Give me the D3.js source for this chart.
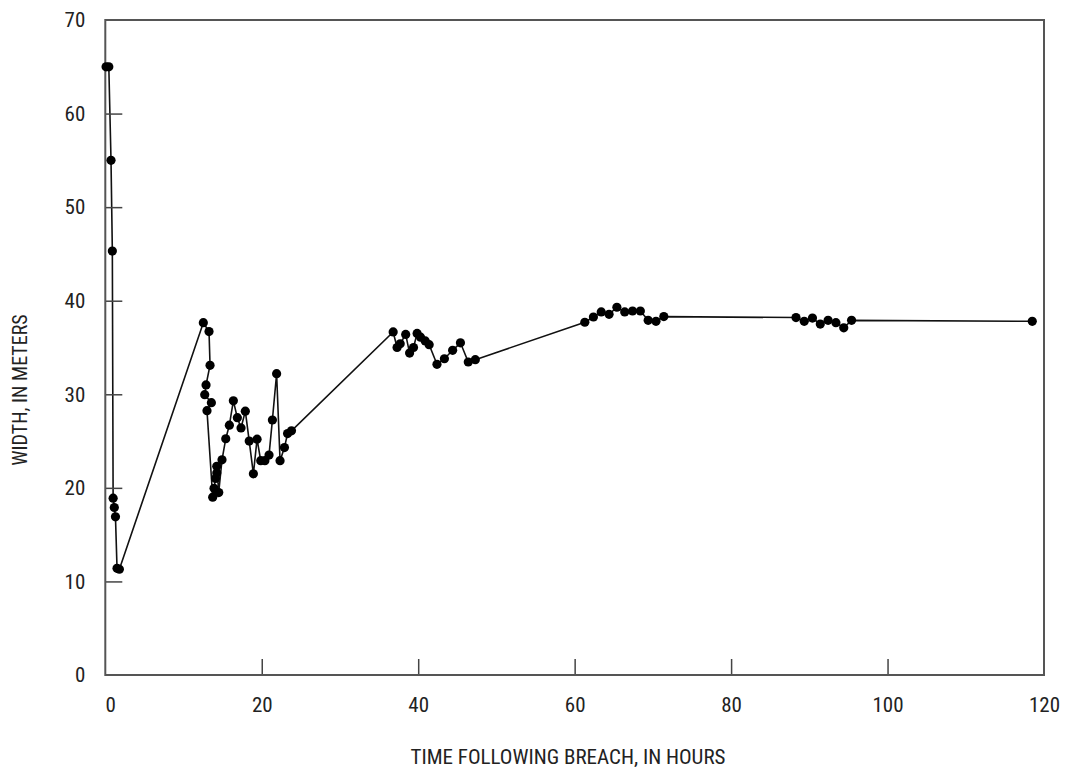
<!DOCTYPE html>
<html>
<head>
<meta charset="utf-8">
<script src="https://cdn.jsdelivr.net/npm/d3@7"></script>
<style>
  html, body { margin: 0; padding: 0; background: #fff; }
  svg { display: block; }
  text { font-family: "Liberation Sans Narrow", "Arial Narrow", "Roboto Condensed", sans-serif; fill: #222; }
</style>
</head>
<body>
<svg id="chart" width="1067" height="771"></svg>
<script>
// Time following breach (hours)
const hours = [
  0.1, 0.45, 0.73, 0.9, 1.0, 1.15, 1.3, 1.5, 1.8,
  12.53, 13.26, 13.39, 12.88, 12.71, 13.56, 13.0,
  13.73, 13.9, 14.1, 14.25, 14.25, 14.5,
  14.92, 15.4, 15.86, 16.37, 16.88, 17.35, 17.9, 18.4, 18.93, 19.4, 19.87, 20.4, 20.93, 21.36, 21.9, 22.34, 22.9, 23.3, 23.8,
  36.8, 37.3, 37.7, 38.4, 38.9, 39.4, 39.86, 40.3, 40.9, 41.4, 42.4, 43.35, 44.4, 45.4, 46.4, 47.3,
  61.3, 62.4, 63.4, 64.4, 65.4, 66.4, 67.4, 68.4, 69.4, 70.4, 71.4,
  88.3, 89.35, 90.4, 91.4, 92.4, 93.4, 94.4, 95.4,
  118.5
];
// Width (meters)
const widths = [
  65.0, 65.0, 55.0, 45.3, 18.9, 17.9, 16.9, 11.4, 11.3,
  37.65, 36.7, 33.1, 31.0, 29.96, 29.1, 28.25,
  19.0, 19.95, 21.0, 21.6, 22.3, 19.5,
  23.0, 25.25, 26.7, 29.3, 27.5, 26.4, 28.2, 25.0, 21.5, 25.2, 22.9, 22.9, 23.5, 27.25, 32.2, 22.9, 24.3, 25.8, 26.1,
  36.66, 35.0, 35.4, 36.4, 34.4, 35.0, 36.5, 36.1, 35.7, 35.3, 33.2, 33.8, 34.7, 35.5, 33.45, 33.7,
  37.7, 38.26, 38.8, 38.55, 39.3, 38.8, 38.9, 38.9, 37.9, 37.8, 38.3,
  38.2, 37.8, 38.15, 37.5, 37.9, 37.65, 37.1, 37.9,
  37.8
];
const xTicks = [0, 20, 40, 60, 80, 100, 120];
const yTicks = [0, 10, 20, 30, 40, 50, 60, 70];
const xTitle = "TIME FOLLOWING BREACH, IN HOURS";
const yTitle = "WIDTH, IN METERS";

const data = hours.map((h, i) => ({ x: h, y: widths[i] }));

const svg = d3.select("#chart");
const margin = { left: 105.3, right: 1067 - 1044, top: 20, bottom: 771 - 675 };
const W = 1067, H = 771;

const x = d3.scaleLinear().domain([0, 120]).range([margin.left, W - margin.right]);
const y = d3.scaleLinear().domain([0, 70]).range([H - margin.bottom, margin.top]);

// plot data line
const line = d3.line().x(d => x(d.x)).y(d => y(d.y));
svg.append("path")
  .datum(data)
  .attr("d", line)
  .attr("fill", "none")
  .attr("stroke", "#111")
  .attr("stroke-width", 1.6);

// ticks (inward) via axes
const xAxis = d3.axisTop(x).tickValues(xTicks.filter(t => t > 0 && t < 120)).tickSize(16).tickFormat("");
const gx = svg.append("g").attr("transform", `translate(0,${y(0)})`).call(xAxis);
gx.select(".domain").remove();
gx.selectAll("line").attr("stroke", "#444").attr("stroke-width", 1.5);

const yAxis = d3.axisRight(y).tickValues(yTicks.filter(t => t > 0 && t < 70)).tickSize(17).tickFormat("");
const gy = svg.append("g").attr("transform", `translate(${x(0)},0)`).call(yAxis);
gy.select(".domain").remove();
gy.selectAll("line").attr("stroke", "#444").attr("stroke-width", 1.5);

// frame
svg.append("rect")
  .attr("x", x(0)).attr("y", y(70))
  .attr("width", x(120) - x(0)).attr("height", y(0) - y(70))
  .attr("fill", "none").attr("stroke", "#555").attr("stroke-width", 2);

// tick labels
const xl = d3.axisBottom(x).tickValues(xTicks).tickSize(0).tickPadding(22);
const gxl = svg.append("g").attr("transform", `translate(0,${y(0)})`).call(xl);
gxl.select(".domain").remove();
gxl.selectAll("text").attr("font-size", 21).attr("font-family", null)
  .attr("dx", d => d === 0 ? 5 : 0);

const yl = d3.axisLeft(y).tickValues(yTicks).tickSize(0).tickPadding(20);
const gyl = svg.append("g").attr("transform", `translate(${x(0)},0)`).call(yl);
gyl.select(".domain").remove();
gyl.selectAll("text").attr("font-size", 21).attr("font-family", null);

// points
svg.append("g").selectAll("circle")
  .data(data).join("circle")
  .attr("cx", d => x(d.x)).attr("cy", d => y(d.y))
  .attr("r", 4.6).attr("fill", "#000");

// titles
svg.append("text")
  .attr("x", 568).attr("y", 764)
  .attr("text-anchor", "middle").attr("font-size", 21)
  .text(xTitle);

svg.append("text")
  .attr("transform", "translate(27,390) rotate(-90)")
  .attr("text-anchor", "middle").attr("font-size", 20)
  .text(yTitle);
</script>
</body>
</html>
